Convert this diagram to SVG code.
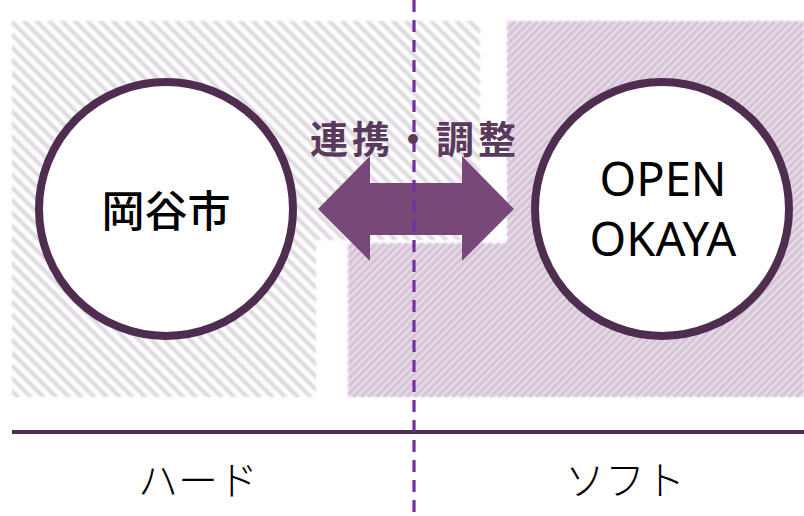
<svg xmlns="http://www.w3.org/2000/svg" width="804" height="516" viewBox="0 0 804 516">
  <defs>
    <pattern id="hatchL" patternUnits="userSpaceOnUse" width="9" height="9" patternTransform="rotate(-45)">
      <rect width="9" height="9" fill="#ffffff"/>
      <rect width="4" height="9" fill="#dbd5dd"/>
    </pattern>
    <pattern id="hatchR" patternUnits="userSpaceOnUse" width="5.4" height="5.4" patternTransform="rotate(45)">
      <rect width="5.4" height="5.4" fill="#f1e3f1"/>
      <rect width="2.5" height="5.4" fill="#c4b2c5"/>
    </pattern>
    <filter id="soft" x="-5%" y="-5%" width="110%" height="110%">
      <feGaussianBlur stdDeviation="1"/>
    </filter>
    <style>
      .node { fill: #ffffff; stroke: #4f2d4f; stroke-width: 8; }
      .jp { font-family: "Noto Sans CJK JP", "Noto Sans", sans-serif; }
      .lat { font-family: "Noto Sans", "Open Sans", sans-serif; }
    </style>
  </defs>

  <rect width="804" height="516" fill="#ffffff"/>

  <g id="areas" filter="url(#soft)">
    <polygon id="area-hard" points="12,21 480,21 480,240 316,240 316,397 12,397" fill="url(#hatchL)"/>
    <polygon id="area-soft" points="507,21 804,21 804,397 348,397 348,243 507,243" fill="url(#hatchR)"/>
  </g>

  <g id="connectors">
    <polygon id="double-arrow" points="318,209 370,156 370,183 462,183 462,156 514,209 462,261 462,235 370,235 370,261" fill="#784878"/>
    <line id="divider-h" x1="12" y1="432" x2="804" y2="432" stroke="#4f2d4f" stroke-width="4"/>
    <line id="divider-v" x1="414" y1="0" x2="414" y2="516" stroke="#7030a0" stroke-width="3.2" stroke-dasharray="12 8"/>
  </g>

  <g id="label-renkei">
    <text class="jp" x="415" y="153" font-size="38" font-weight="bold" fill="#5a3a5c" text-anchor="middle" letter-spacing="4">連携・調整</text>
  </g>

  <g id="node-okaya-city">
    <circle class="node" cx="166" cy="209" r="127"/>
    <text class="jp" x="166" y="227" font-size="43" font-weight="500" fill="#000000" text-anchor="middle">岡谷市</text>
  </g>

  <g id="node-open-okaya">
    <circle class="node" cx="662" cy="209" r="127"/>
    <text class="lat" x="663" y="196" font-size="47" fill="#000000" text-anchor="middle">OPEN</text>
    <text class="lat" x="663" y="256" font-size="47" fill="#000000" text-anchor="middle">OKAYA</text>
  </g>

  <g id="label-hard">
    <text class="jp" x="198" y="495" font-size="40" font-weight="300" fill="#000000" text-anchor="middle">ハード</text>
  </g>
  <g id="label-soft">
    <text class="jp" x="625" y="495" font-size="40" font-weight="300" fill="#000000" text-anchor="middle">ソフト</text>
  </g>
</svg>
